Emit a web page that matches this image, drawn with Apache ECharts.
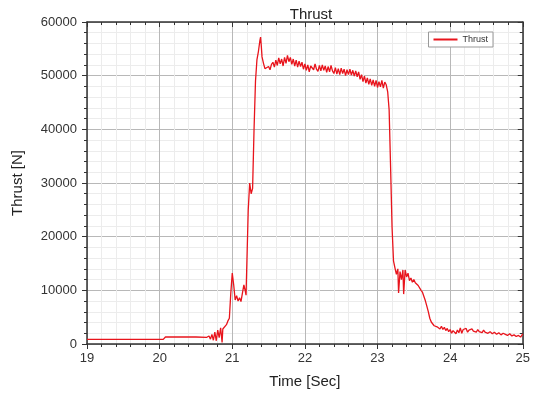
<!DOCTYPE html>
<html>
<head>
<meta charset="utf-8">
<script src="https://cdn.jsdelivr.net/npm/echarts@6/dist/echarts.min.js"></script>
<style>
  html, body { margin: 0; padding: 0; background: #fff; }
  #chart { width: 533px; height: 396px; }
</style>
</head>
<body>
<div id="chart"></div>
<script>
// time [s]
const times = [
  19.0, 19.5, 20.05, 20.08, 20.3, 20.5, 20.65, 20.68, 20.7, 20.72, 20.74, 20.76, 20.78, 20.8, 20.82, 20.84, 20.86, 20.87, 20.89,
  20.92, 20.94, 20.96, 20.98, 21.0, 21.02, 21.04, 21.06, 21.08, 21.1, 21.12, 21.14, 21.16, 21.18, 21.19, 21.2, 21.22, 21.24,
  21.26, 21.28, 21.3, 21.32, 21.34, 21.36, 21.38, 21.39, 21.4, 21.41, 21.43, 21.45, 21.47, 21.5, 21.52, 21.54, 21.56, 21.58,
  21.6, 21.62, 21.64, 21.66, 21.68, 21.7, 21.72, 21.74, 21.76, 21.78, 21.8, 21.82, 21.84, 21.86, 21.88, 21.9, 21.92, 21.94,
  21.96, 21.98, 22.0, 22.02, 22.04, 22.06, 22.08, 22.1, 22.12, 22.14, 22.16, 22.18, 22.2, 22.22, 22.24, 22.26, 22.28, 22.3,
  22.32, 22.34, 22.36, 22.38, 22.4, 22.42, 22.44, 22.46, 22.48, 22.5, 22.52, 22.54, 22.56, 22.58, 22.6, 22.62, 22.64, 22.66,
  22.68, 22.7, 22.72, 22.74, 22.76, 22.78, 22.8, 22.82, 22.84, 22.86, 22.88, 22.9, 22.92, 22.94, 22.96, 22.98, 23.0, 23.02,
  23.04, 23.06, 23.08, 23.1, 23.12, 23.14, 23.16, 23.18, 23.2, 23.22, 23.24, 23.26, 23.28, 23.29, 23.31, 23.33, 23.35, 23.36,
  23.38, 23.4, 23.42, 23.44, 23.46, 23.48, 23.5, 23.52, 23.54, 23.56, 23.58, 23.6, 23.62, 23.64, 23.66, 23.68, 23.7, 23.72,
  23.74, 23.76, 23.78, 23.8, 23.82, 23.84, 23.86, 23.88, 23.9, 23.92, 23.94, 23.96, 23.98, 24.0, 24.02, 24.04, 24.06, 24.08,
  24.1, 24.12, 24.14, 24.16, 24.18, 24.2, 24.22, 24.24, 24.26, 24.28, 24.3, 24.32, 24.34, 24.36, 24.38, 24.4, 24.42, 24.44,
  24.46, 24.48, 24.5, 24.52, 24.55, 24.58, 24.61, 24.64, 24.67, 24.7, 24.73, 24.76, 24.79, 24.82, 24.85, 24.88, 24.91, 24.94,
  24.97, 25.0
];
// thrust [N]
const thrust = [
  850, 850, 850, 1300, 1300, 1300, 1250, 1500, 900, 1800, 700, 2200, 600, 2600, 1200, 3000, 300, 2800, 2600,
  3600, 4300, 4800, 9500, 13200, 11000, 8200, 9000, 8000, 8600, 7900, 9500, 11000, 9800, 9100, 14500, 25000, 30000,
  28000, 29000, 40000, 49000, 53000, 54500, 56500, 57200, 55500, 53500, 52300, 51300, 51000, 51700, 51100, 52100, 52500, 51600,
  52900, 51900, 53300, 52200, 53100, 51800, 53400, 52300, 53800, 52600, 53400, 52100, 53100, 51800, 52900, 51600, 52700, 51700,
  52500, 51200, 52200, 51000, 52000, 50700, 51800, 52100, 51100, 52200, 51200, 50800, 51900, 50900, 52000, 51000, 51800, 50600,
  51700, 50700, 51900, 50900, 50400, 51500, 50300, 51300, 50200, 51400, 50400, 51200, 50000, 51100, 50200, 51200, 50100, 51000,
  49900, 50900, 49800, 50700, 49300, 50200, 48900, 49900, 48600, 49600, 48400, 49400, 48200, 49200, 48000, 49100, 47800, 48900,
  47900, 49100, 47700, 48800, 48300, 47000, 43600, 33000, 21800, 15500, 14200, 13000, 14000, 9500, 13500, 12000, 13800, 9300,
  13800, 12500, 13200, 11800, 12300, 11500, 12000, 11400, 11700, 10900, 10700, 10000, 9600, 8800, 8000, 7000, 6000, 4800,
  4100, 3900, 3400, 3700, 3200, 3500, 2800, 3300, 2700, 3100, 2500, 2900, 2300, 2700, 2000, 2500, 2200, 1900,
  2600, 2100, 3000, 2000, 2700, 2400, 2900, 2200, 2600, 2300, 2800, 2400, 2600, 2200, 2700, 2300, 2500, 2100,
  2600, 2200, 2400, 2000, 2300, 1900, 2200, 1800, 2100, 1700, 2000, 1800, 1600, 1900, 1500, 1700, 1400, 1600,
  1300, 1900
];
const xTicks = [19, 20, 21, 22, 23, 24, 25];
const yTicks = [0, 10000, 20000, 30000, 40000, 50000, 60000];

const chart = echarts.init(document.getElementById('chart'), null, { renderer: 'canvas' });

const font = 'Liberation Sans, Arial, sans-serif';
const axisCol = '#333';
const majorGrid = { show: true, lineStyle: { color: '#b8b8b8', width: 1 } };
const minorGrid = { show: true, lineStyle: { color: '#ececec', width: 1 } };

chart.setOption({
  backgroundColor: '#fff',
  animation: false,
  title: {
    text: 'Thrust',
    left: 306, top: 2, textAlign: 'center',
    textStyle: { fontFamily: font, fontSize: 15, fontWeight: 'normal', color: '#222' }
  },
  legend: {
    right: 40, top: 32,
    itemWidth: 24, itemHeight: 2, itemGap: 4,
    icon: 'rect',
    padding: [3, 5, 3, 5],
    borderColor: '#999', borderWidth: 1, borderRadius: 0,
    backgroundColor: '#fff',
    textStyle: { fontFamily: font, fontSize: 9, color: '#333' },
    data: ['Thrust']
  },
  grid: { left: 87, right: 8, top: 22, bottom: 52 },
  xAxis: [{
    type: 'value', min: xTicks[0], max: xTicks[xTicks.length - 1], interval: 1,
    name: 'Time [Sec]', nameLocation: 'middle', nameGap: 30,
    nameTextStyle: { fontFamily: font, fontSize: 15, color: '#222' },
    axisLine: { onZero: false, lineStyle: { color: axisCol, width: 1.5 } },
    axisTick: { length: 5, lineStyle: { color: axisCol } },
    minorTick: { show: true, splitNumber: 5, length: 3, lineStyle: { color: axisCol } },
    axisLabel: { fontFamily: font, fontSize: 13, color: '#333', margin: 8 },
    splitLine: majorGrid, minorSplitLine: minorGrid
  }, {
    type: 'value', position: 'top', min: xTicks[0], max: xTicks[xTicks.length - 1], interval: 1,
    axisLine: { onZero: false, lineStyle: { color: axisCol, width: 1.5 } },
    axisTick: { inside: true, length: 5, lineStyle: { color: axisCol } },
    minorTick: { show: true, splitNumber: 5, length: 3, lineStyle: { color: axisCol } },
    axisLabel: { show: false }, splitLine: { show: false }
  }],
  yAxis: [{
    type: 'value', min: yTicks[0], max: yTicks[yTicks.length - 1], interval: 10000,
    name: 'Thrust [N]', nameLocation: 'middle', nameGap: 62,
    nameTextStyle: { fontFamily: font, fontSize: 15, color: '#222' },
    axisLine: { onZero: false, show: true, lineStyle: { color: axisCol, width: 1.5 } },
    axisTick: { show: true, length: 5, lineStyle: { color: axisCol } },
    minorTick: { show: true, splitNumber: 5, length: 3, lineStyle: { color: axisCol } },
    axisLabel: { fontFamily: font, fontSize: 13, color: '#333', margin: 10, formatter: v => String(v) },
    splitLine: majorGrid, minorSplitLine: minorGrid
  }, {
    type: 'value', position: 'right', min: yTicks[0], max: yTicks[yTicks.length - 1], interval: 10000,
    axisLine: { onZero: false, show: true, lineStyle: { color: axisCol, width: 1.5 } },
    axisTick: { show: true, inside: true, length: 5, lineStyle: { color: axisCol } },
    minorTick: { show: true, splitNumber: 5, length: 3, lineStyle: { color: axisCol } },
    axisLabel: { show: false }, splitLine: { show: false }
  }],
  series: [{
    name: 'Thrust',
    type: 'line',
    showSymbol: false,
    xAxisIndex: 0, yAxisIndex: 0,
    lineStyle: { color: '#e8141c', width: 1.3 },
    itemStyle: { color: '#e8141c' },
    data: times.map((t, i) => [t, thrust[i]])
  }]
});
</script>
</body>
</html>
